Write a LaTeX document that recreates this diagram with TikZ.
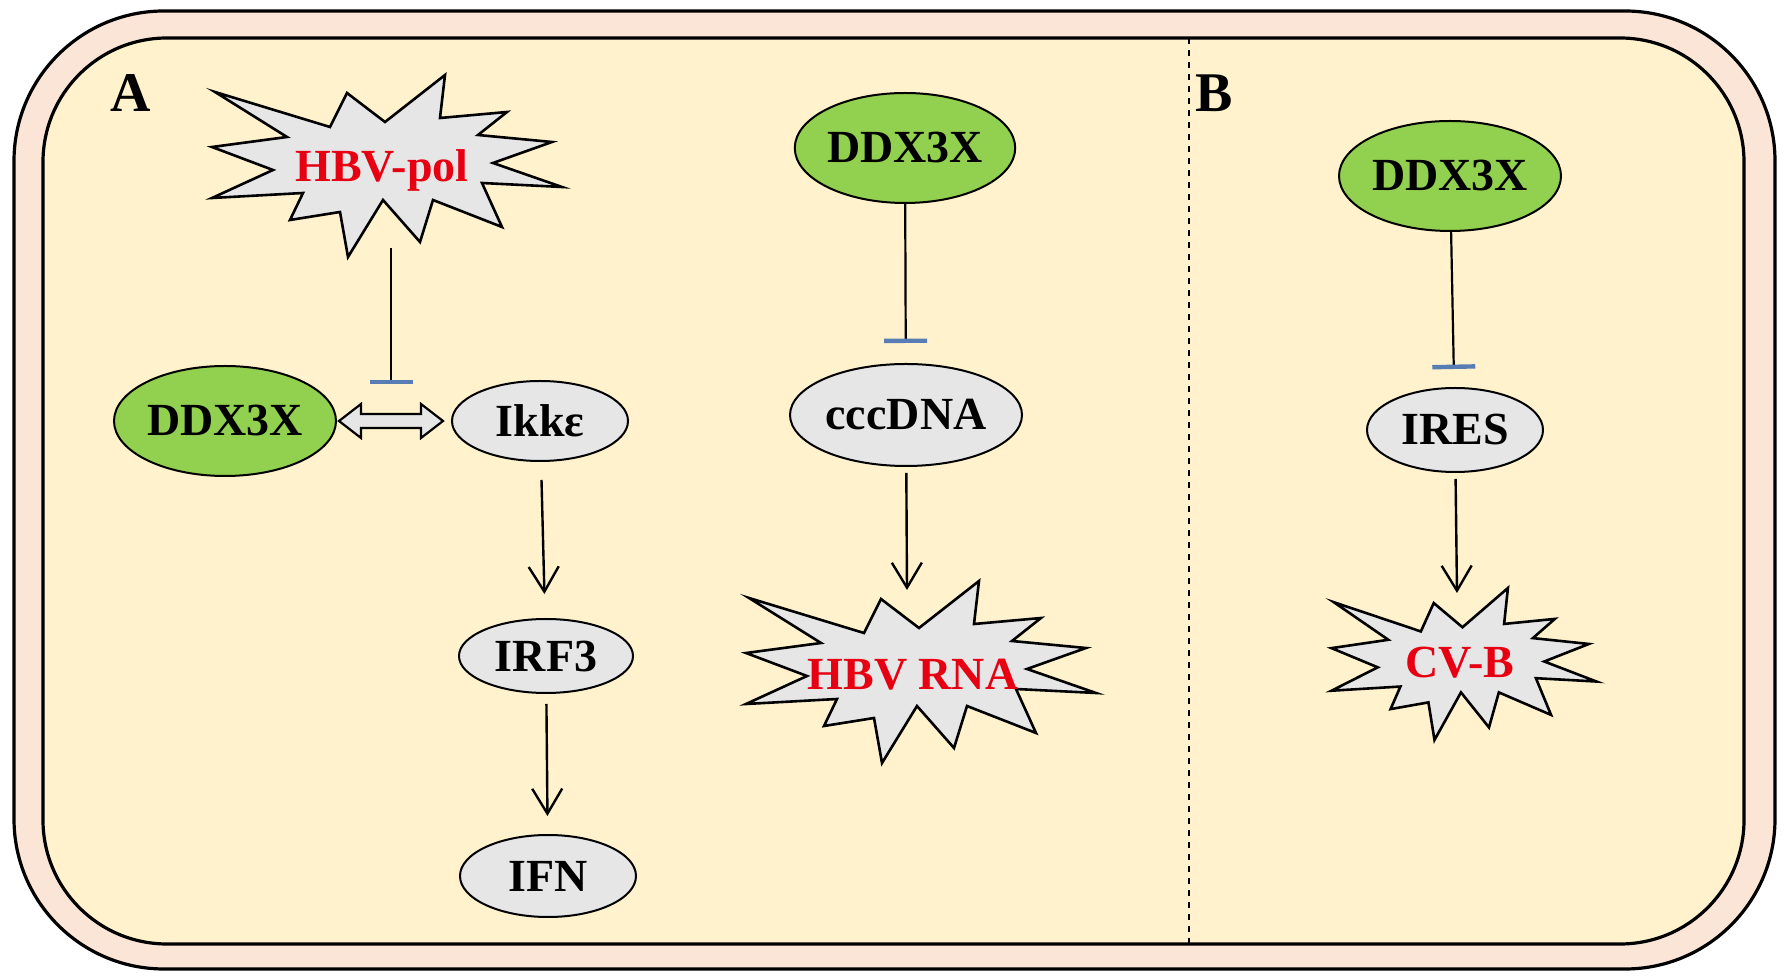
\documentclass[tikz,border=0pt]{standalone}
\usepackage{fontspec}
\setmainfont{Liberation Serif}
\usetikzlibrary{shapes.geometric,arrows.meta,calc}

\definecolor{cellpink}{RGB}{251,229,214}
\definecolor{cytoplasm}{RGB}{255,242,204}
\definecolor{ddxgreen}{RGB}{146,208,80}
\definecolor{protgray}{RGB}{231,230,230}
\definecolor{virusred}{RGB}{230,0,18}
\definecolor{barblue}{RGB}{88,124,180}

\newcommand{\lblfont}{\fontsize{23}{27}\selectfont\bfseries}

\tikzset{
  prot/.style={ellipse, draw, line width=1pt, fill=protgray, font=\lblfont, inner sep=0pt},
  host/.style={prot, fill=ddxgreen},
  virus/.style={text=virusred, font=\lblfont, inner sep=0pt},
  panel/.style={font=\fontsize{28}{32}\selectfont\bfseries},
  act/.style={-{Straight Barb[length=12.5pt,width=15pt]}, line width=1.2pt},
  inh/.style={-{Bar[width=21.5pt,line width=2.2pt,color=barblue]}, line width=1.1pt},
  binds/.style={draw, fill=protgray, line width=1.1pt, line join=miter,
    to path={($(\tikztostart)+(1pt,0)$) -- ++(11pt,8.5pt) -- ++(0,-5pt)
      -- ($(\tikztotarget)+(-15pt,3.5pt)$) -- ++(0,5pt) -- ($(\tikztotarget)+(-4pt,0)$)
      -- ++(-11pt,-8.5pt) -- ++(0,5pt) -- ($(\tikztostart)+(12pt,-3.5pt)$)
      -- ++(0,-5pt) -- cycle}},
  % explosion outline, 350 x 182 units at scale 1
  burst/.pic={
    \draw[line width=1.3pt, fill=protgray, line join=miter]
      (-172,-74) -- (-57,-39) -- (-40,-73) -- (-2,-44) -- (58,-91) -- (53,-48)
      -- (120,-54) -- (91,-31) -- (165,-24) -- (106,-3) -- (175,21) -- (95,17)
      -- (115,61) -- (46,34) -- (33,76) -- (-4,34) -- (-39,91) -- (-47,46)
      -- (-97,54) -- (-84,27) -- (-175,32) -- (-114,4) -- (-175,-19) -- (-100,-29)
      -- cycle;
  }
}

\begin{document}
\begin{tikzpicture}[x=0.5pt,y=-0.5pt]
\useasboundingbox (0,0) rectangle (1784,977);

% cell and cytoplasm
\draw[line width=1.6pt, fill=cellpink, rounded corners=75pt] (14,11) rectangle (1775,969);
\draw[line width=1.6pt, fill=cytoplasm, rounded corners=62pt] (43,38) rectangle (1744,944);
\draw[dashed, line width=0.6pt] (1189,38) -- (1189,944);

\node[panel] (labA) at (131,93) {A};
\node[panel] (labB) at (1214,93) {B};

% panel A, left
\pic at (387,166) {burst};
\node[virus] (hbvpol) at (382,170) {HBV-pol};
\node[host, minimum width=111pt, minimum height=55pt] (ddxa) at (225,421) {DDX3X};
\node[prot, minimum width=88pt, minimum height=40pt] (ikk) at (540,421) {Ikkε};
\node[prot, minimum width=87pt, minimum height=37pt] (irf) at (546,656) {IRF3};
\node[prot, minimum width=88pt, minimum height=41pt] (ifn) at (548,876) {IFN};
\coordinate (cuta) at (391,384);

\draw[inh, shorten <=39pt] (hbvpol.center -| cuta) -- (cuta);
\draw[binds] (ddxa.east) to (ikk.west);
\draw[act, shorten <=9pt, shorten >=12pt] (ikk) -- (irf);
\draw[act, shorten <=5pt, shorten >=9pt] (irf) -- (ifn);

% panel A, right
\node[host, minimum width=110pt, minimum height=55pt] (ddxb) at (905,148) {DDX3X};
\node[prot, minimum width=116pt, minimum height=51pt] (ccc) at (906,415) {cccDNA};
\pic at (921,672) {burst};
\node[virus] (hbvrna) at (913,675) {HBV RNA};
\coordinate (rnatop) at (907,590);

\draw[inh, shorten >=10pt] (ddxb) -- (ccc);
\draw[act, shorten <=3pt] (ccc) -- (rnatop);

% panel B
\node[host, minimum width=111pt, minimum height=55pt] (ddxc) at (1450,176) {DDX3X};
\node[prot, minimum width=88pt, minimum height=42pt] (ires) at (1455,430) {IRES};
\pic[xscale=0.757, yscale=0.835] at (1464,664) {burst};
\node[virus] (cvb) at (1460,663) {CV-B};
\coordinate (cvbtop) at (1457,593);

\draw[inh, shorten >=9pt] (ddxc) -- (ires);
\draw[act, shorten <=3pt] (ires) -- (cvbtop);

\end{tikzpicture}
\end{document}
